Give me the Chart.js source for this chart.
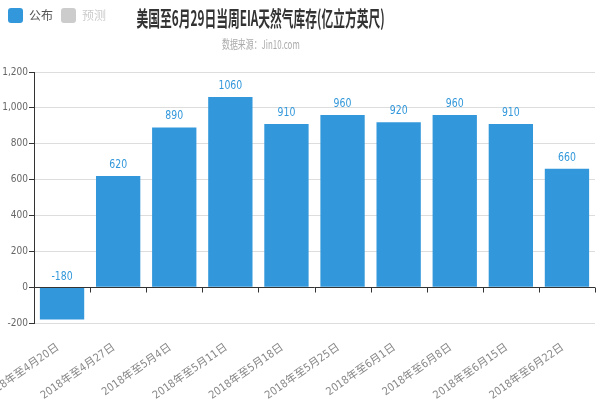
<!DOCTYPE html>
<html>
<head>
<meta charset="utf-8">
<script src="https://cdn.jsdelivr.net/npm/chart.js@4/dist/chart.umd.min.js"></script>
<style>
  html, body { margin: 0; padding: 0; background: #fff; }
  #wrap { position: relative; width: 600px; height: 400px; }
  #title { position: absolute; left: 0; width: 522px; top: 3px; text-align: center;
           font-family: "Noto Sans CJK SC", sans-serif; font-weight: bold; font-size: 21px;
           color: #333; line-height: 28px; white-space: nowrap; }
  #title span { display: inline-block; transform: scaleX(0.56); transform-origin: center; }
  #sub span { display: inline-block; transform: scaleX(0.66); transform-origin: center; }
  #sub { position: absolute; left: 0; width: 522px; top: 36px; text-align: center;
         font-family: "Noto Sans CJK SC", sans-serif; font-size: 12px; color: #aaa;
         line-height: 16px; white-space: nowrap; }
</style>
</head>
<body>
<div id="wrap">
  <canvas id="c" width="600" height="400"></canvas>
  <div id="title"><span>美国至6月29日当周EIA天然气库存(亿立方英尺)</span></div>
  <div id="sub"><span>数据来源：Jin10.com</span></div>
</div>
<script>
const categories = ["2018年至4月20日","2018年至4月27日","2018年至5月4日","2018年至5月11日","2018年至5月18日","2018年至5月25日","2018年至6月1日","2018年至6月8日","2018年至6月15日","2018年至6月22日"];
const publishedValues = [-180, 620, 890, 1060, 910, 960, 920, 960, 910, 660];
const forecastValues = [];
const seriesNames = ["公布", "预测"];
const yMin = -200, yMax = 1200, yStep = 200;

const BLUE = '#3398DB';
const NARROW = '"Liberation Sans Narrow", "DejaVu Sans Condensed", "Noto Sans CJK SC", sans-serif';

const valueLabels = {
  id: 'valueLabels',
  afterDatasetsDraw(chart) {
    const ctx = chart.ctx;
    const meta = chart.getDatasetMeta(0);
    const sx = 0.8;
    meta.data.forEach((bar, i) => {
      const top = Math.min(bar.y, bar.base);
      ctx.save();
      ctx.translate(bar.x, top - 5);
      ctx.scale(sx, 1);
      ctx.fillStyle = BLUE;
      ctx.font = '13px ' + NARROW;
      ctx.textAlign = 'center';
      ctx.textBaseline = 'bottom';
      ctx.fillText(String(publishedValues[i]), 0, 0);
      ctx.restore();
    });
  }
};

const zeroAxis = {
  id: 'zeroAxis',
  afterDatasetsDraw(chart) {
    const ctx = chart.ctx;
    const y0 = chart.scales.y.getPixelForValue(0);
    const area = chart.chartArea;
    const n = categories.length;
    const w = (area.right - area.left) / n;
    ctx.save();
    ctx.strokeStyle = '#333';
    ctx.lineWidth = 1;
    ctx.beginPath();
    ctx.moveTo(area.left, Math.round(y0) + 0.5);
    ctx.lineTo(area.right, Math.round(y0) + 0.5);
    for (let i = 1; i <= n; i++) {
      const x = Math.round(area.left + i * w) + 0.5;
      ctx.moveTo(x, Math.round(y0) + 0.5);
      ctx.lineTo(x, Math.round(y0) + 5.5);
    }
    ctx.stroke();
    ctx.restore();
  }
};

new Chart(document.getElementById('c'), {
  type: 'bar',
  data: {
    labels: categories,
    datasets: [
      { label: seriesNames[0], data: publishedValues, backgroundColor: BLUE, borderWidth: 0,
        barPercentage: 0.79, categoryPercentage: 1.0, grouped: false },
      { label: seriesNames[1], data: forecastValues, backgroundColor: '#ccc', borderWidth: 0,
        barPercentage: 0.79, categoryPercentage: 1.0, grouped: false }
    ]
  },
  options: {
    responsive: false,
    animation: false,
    layout: { padding: { left: 0, right: 5, top: 0, bottom: 0 } },
    plugins: {
      legend: {
        position: 'top',
        align: 'start',
        labels: {
          boxWidth: 15, boxHeight: 15, padding: 8,
          font: { size: 12, family: '"Noto Sans CJK SC", sans-serif' },
          generateLabels(chart) {
            return chart.data.datasets.map((ds, i) => ({
              text: ds.label,
              fillStyle: i === 0 ? BLUE : '#ccc',
              strokeStyle: i === 0 ? BLUE : '#ccc',
              lineWidth: 0,
              fontColor: i === 0 ? '#555' : '#ccc',
              hidden: false,
              borderRadius: 3,
              datasetIndex: i
            }));
          }
        },
        onClick() {}
      },
      tooltip: { enabled: false }
    },
    scales: {
      top: {
        type: 'category', position: 'top', labels: categories,
        grid: { display: false }, border: { display: false },
        ticks: { display: false },
        afterFit(s) { s.height = 39; s.paddingLeft = 0; s.paddingRight = 0; }
      },
      x: {
        type: 'category',
        position: 'bottom',
        grid: { display: false, offset: true },
        border: { display: false },
        ticks: {
          color: '#888', maxRotation: 35, minRotation: 35, autoSkip: false, padding: 10,
          labelOffset: -4,
          font: { size: 11, family: NARROW }
        },
        afterFit(s) { s.height = 77; s.paddingLeft = 0; s.paddingRight = 0; }
      },
      y: {
        min: yMin, max: yMax,
        grid: { color: '#ddd', tickColor: '#333', tickLength: 5 },
        border: { display: true, color: '#333' },
        ticks: {
          stepSize: yStep, color: '#666', padding: 1,
          font: { size: 10, family: NARROW },
          callback: v => v.toLocaleString('en-US')
        },
        afterFit(s) { s.width = 34; s.paddingTop = 0; s.paddingBottom = 0; }
      }
    }
  },
  plugins: [valueLabels, zeroAxis]
});
</script>
</body>
</html>
